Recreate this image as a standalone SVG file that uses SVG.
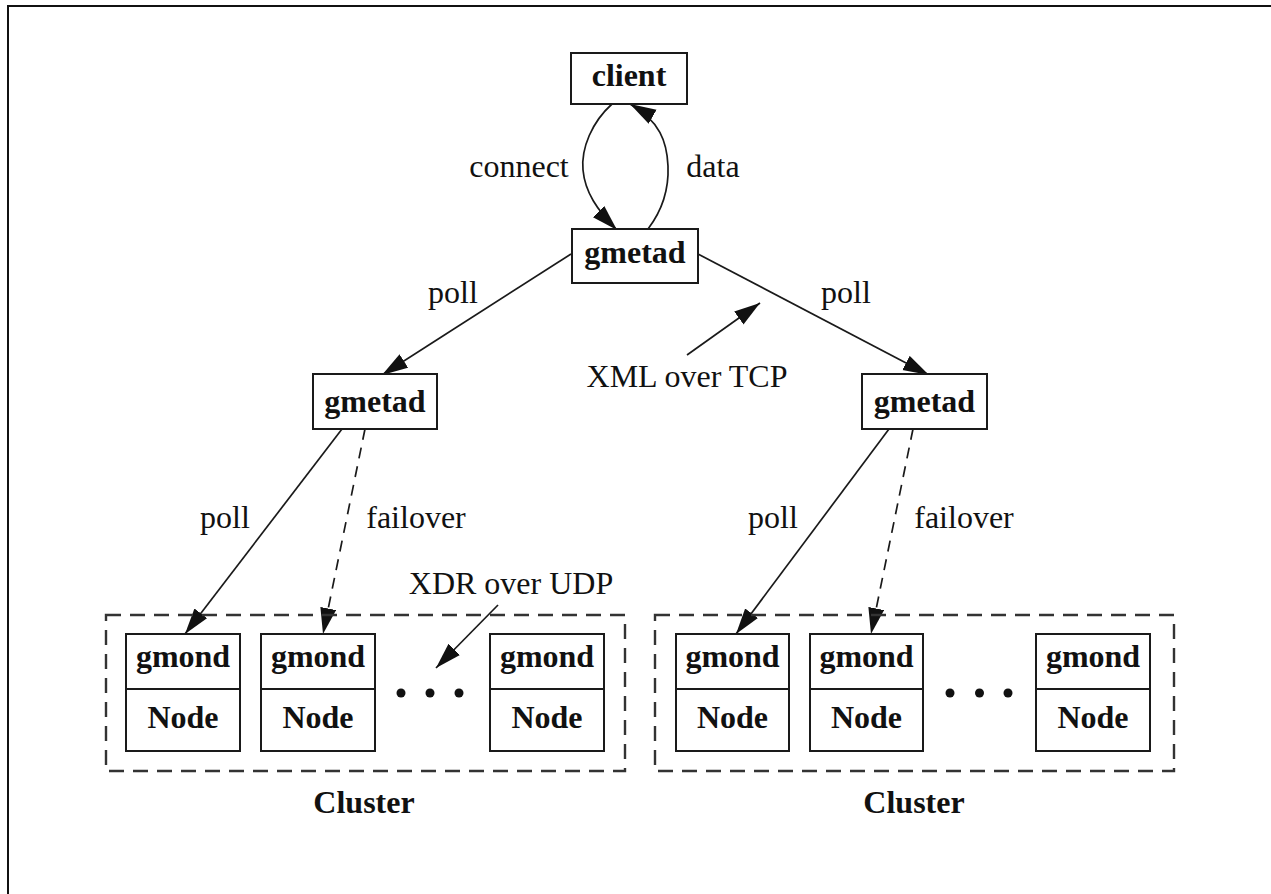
<svg xmlns="http://www.w3.org/2000/svg" width="1271" height="894" viewBox="0 0 1271 894">
<style>
.box{fill:#fff;stroke:#1a1a1a;stroke-width:2}
.cluster{fill:none;stroke:#333;stroke-width:2.4;stroke-dasharray:15 9}
.edge{fill:none;stroke:#1a1a1a;stroke-width:1.7}
.dash{stroke-dasharray:11 8}
.bl{font-family:"Liberation Serif",serif;font-weight:bold;font-size:32px;fill:#111;text-anchor:middle}
.lbl{font-family:"Liberation Serif",serif;font-size:32px;fill:#111;text-anchor:middle}
.dot{fill:#111}
</style>
<defs>
<marker id="ah" markerUnits="userSpaceOnUse" markerWidth="28" markerHeight="18" refX="26" refY="8" orient="auto">
<path d="M0,0 L26,8 L0,16 z" fill="#111"/>
</marker>
</defs>
<rect width="1271" height="894" fill="#fff"/>
<path d="M8,894 L8,6 L1271,6" fill="none" stroke="#111" stroke-width="2"/>

<g id="connectors">
<path class="edge" d="M612,104 C592,122 581,148 583,170 C585,192 597,210 617,230" marker-end="url(#ah)"/>
<path class="edge" d="M648,229 C661,212 669,190 668,166 C667,142 660,121 630,104" marker-end="url(#ah)"/>
<path class="edge" d="M571,254 L382,375" marker-end="url(#ah)"/>
<path class="edge" d="M698,254 L929,375" marker-end="url(#ah)"/>
<path class="edge" d="M687,355 L760,303" marker-end="url(#ah)"/>
<path class="edge" d="M342,429 L185,634" marker-end="url(#ah)"/>
<path class="edge dash" d="M365,429 L323,634" marker-end="url(#ah)"/>
<path class="edge" d="M498,605 L436,668" marker-end="url(#ah)"/>
<path class="edge" d="M889,429 L736,634" marker-end="url(#ah)"/>
<path class="edge dash" d="M913,429 L871,634" marker-end="url(#ah)"/>
<text class="lbl" x="519" y="177">connect</text>
<text class="lbl" x="713" y="177">data</text>
<text class="lbl" x="453" y="303">poll</text>
<text class="lbl" x="846" y="303">poll</text>
<text class="lbl" x="687" y="387">XML over TCP</text>
<text class="lbl" x="225" y="528">poll</text>
<text class="lbl" x="416" y="528">failover</text>
<text class="lbl" x="511" y="594">XDR over UDP</text>
<text class="lbl" x="773" y="528">poll</text>
<text class="lbl" x="964" y="528">failover</text>
</g>

<g id="client"><rect class="box" x="571" y="53" width="116" height="51"/><text class="bl" x="629" y="86">client</text></g>
<g id="gmetad-top"><rect class="box" x="572" y="229" width="126" height="54"/><text class="bl" x="635" y="263">gmetad</text></g>
<g id="gmetad-left"><rect class="box" x="313" y="374" width="124" height="55"/><text class="bl" x="375" y="412">gmetad</text></g>
<g id="gmetad-right"><rect class="box" x="862" y="374" width="125" height="55"/><text class="bl" x="924.5" y="412">gmetad</text></g>

<g id="cluster-left">
<rect class="cluster" x="106" y="615" width="519" height="156"/>
<text class="bl" x="364" y="813">Cluster</text>
<circle class="dot" cx="401" cy="693" r="4.5"/><circle class="dot" cx="430" cy="693" r="4.5"/><circle class="dot" cx="459" cy="693" r="4.5"/>
</g>
<g id="node-l1"><rect class="box" x="126" y="634" width="114" height="117"/><line class="box" x1="126" y1="689" x2="240" y2="689"/><text class="bl" x="183" y="667">gmond</text><text class="bl" x="183" y="728">Node</text></g>
<g id="node-l2"><rect class="box" x="261" y="634" width="114" height="117"/><line class="box" x1="261" y1="689" x2="375" y2="689"/><text class="bl" x="318" y="667">gmond</text><text class="bl" x="318" y="728">Node</text></g>
<g id="node-l3"><rect class="box" x="490" y="634" width="114" height="117"/><line class="box" x1="490" y1="689" x2="604" y2="689"/><text class="bl" x="547" y="667">gmond</text><text class="bl" x="547" y="728">Node</text></g>

<g id="cluster-right">
<rect class="cluster" x="655" y="615" width="519" height="156"/>
<text class="bl" x="914" y="813">Cluster</text>
<circle class="dot" cx="950" cy="693" r="4.5"/><circle class="dot" cx="979.5" cy="693" r="4.5"/><circle class="dot" cx="1008" cy="693" r="4.5"/>
</g>
<g id="node-r1"><rect class="box" x="676" y="634" width="113" height="117"/><line class="box" x1="676" y1="689" x2="789" y2="689"/><text class="bl" x="732.5" y="667">gmond</text><text class="bl" x="732.5" y="728">Node</text></g>
<g id="node-r2"><rect class="box" x="810" y="634" width="113" height="117"/><line class="box" x1="810" y1="689" x2="923" y2="689"/><text class="bl" x="866.5" y="667">gmond</text><text class="bl" x="866.5" y="728">Node</text></g>
<g id="node-r3"><rect class="box" x="1036" y="634" width="114" height="117"/><line class="box" x1="1036" y1="689" x2="1150" y2="689"/><text class="bl" x="1093" y="667">gmond</text><text class="bl" x="1093" y="728">Node</text></g>
</svg>
